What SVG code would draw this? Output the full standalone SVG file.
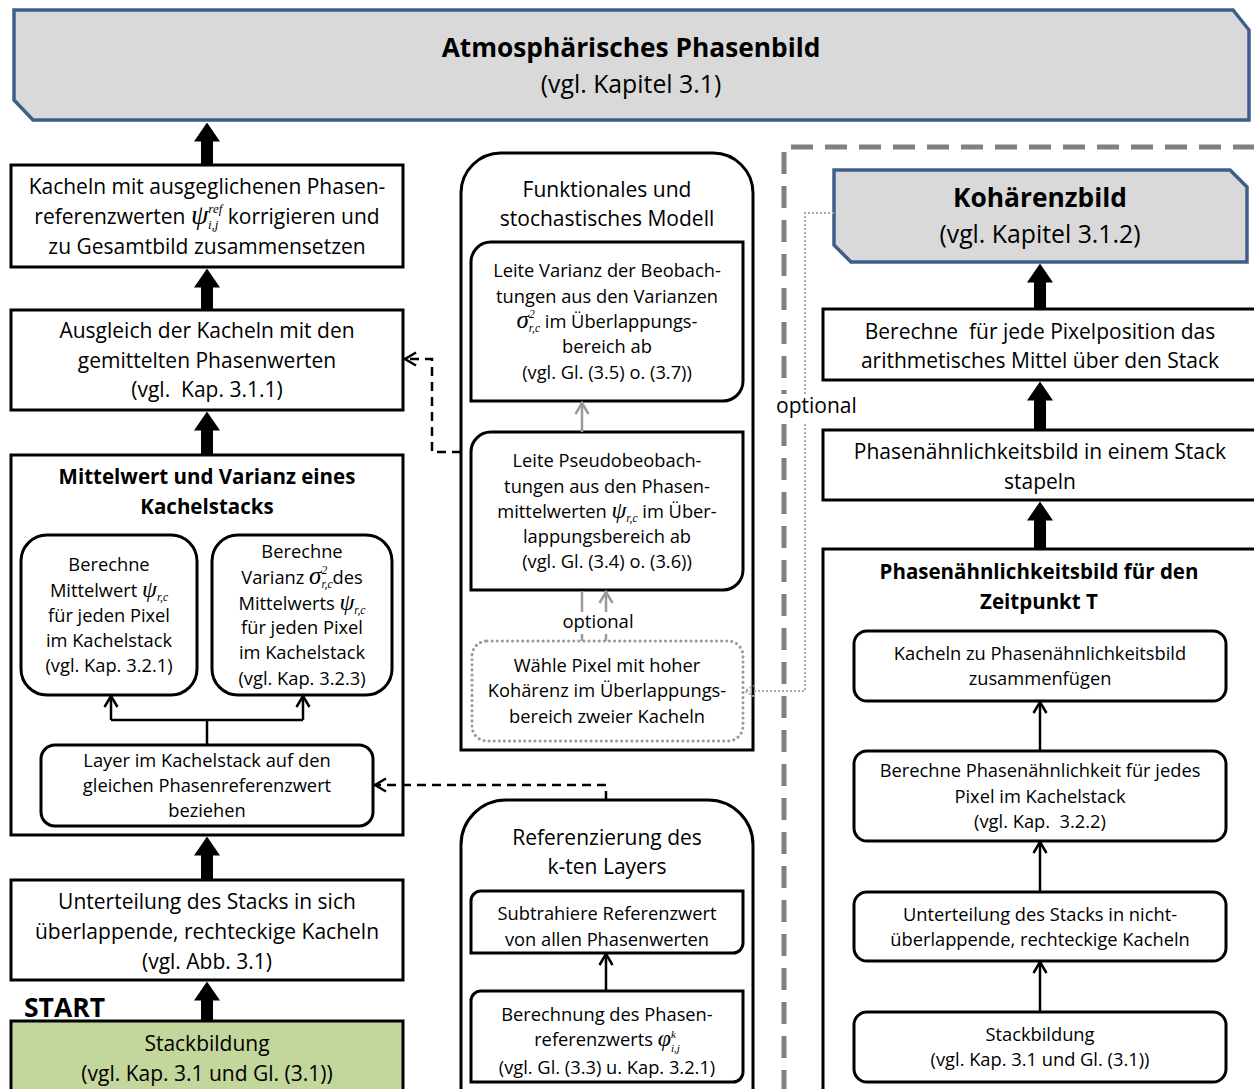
<svg xmlns="http://www.w3.org/2000/svg" width="1254" height="1089" viewBox="0 0 1254 1089">
<style>
.t{font-family:'Open Sans','Liberation Sans',sans-serif;font-size:21px;text-anchor:middle;fill:#000}
.s{font-size:18.3px}
.b{font-weight:700}
.h1{font-size:26.3px}
.h2{font-size:24.8px}
.h3{font-size:20.5px}
.st{font-size:26.5px;text-anchor:start}
.op{font-size:21px;text-anchor:start}
.om{font-size:18.5px}
.m{font-family:'Liberation Serif',serif;font-style:italic}
.box{fill:#fff;stroke:#000;stroke-width:3}
.ban{fill:#d9d9d9;stroke:#3f5f8a;stroke-width:3.5}
.thick{stroke:#000;stroke-width:12;fill:none;marker-end:url(#thk)}
.thin{stroke:#000;stroke-width:2.5;fill:none;marker-end:url(#opn)}
.gray{stroke:#9a9a9a;stroke-width:2.5;fill:none}
.dash{stroke:#000;stroke-width:2.5;fill:none;stroke-dasharray:9 6}
</style>
<defs>
<marker id="thk" markerUnits="userSpaceOnUse" markerWidth="19" markerHeight="26" viewBox="0 0 19 26" refX="0.5" refY="13" orient="auto"><path d="M0,0 L19,13 L0,26 z" fill="#000"/></marker>
<marker id="opn" markerUnits="userSpaceOnUse" markerWidth="16" markerHeight="16" viewBox="0 0 16 16" refX="14" refY="8" orient="auto" overflow="visible"><path d="M3,1.5 L14,8 L3,14.5" fill="none" stroke="#000" stroke-width="2.5"/></marker>
<marker id="opng" markerUnits="userSpaceOnUse" markerWidth="16" markerHeight="16" viewBox="0 0 16 16" refX="14" refY="8" orient="auto" overflow="visible"><path d="M3,1.5 L14,8 L3,14.5" fill="none" stroke="#9a9a9a" stroke-width="2.5"/></marker>
<marker id="opnd" markerUnits="userSpaceOnUse" markerWidth="14" markerHeight="14" viewBox="0 0 14 14" refX="12" refY="7" orient="auto" overflow="visible"><path d="M3,1.5 L12,7 L3,12.5" fill="none" stroke="#aaaaaa" stroke-width="2" stroke-dasharray="2 2"/></marker>
</defs>
<rect width="1254" height="1089" fill="#fff"/>

<g id="optional-region">
<path d="M784,1092 V147 H1258" fill="none" stroke="#808080" stroke-width="5" stroke-dasharray="22 12"/>
</g>

<g id="atmos-banner">
<path class="ban" d="M14,10 H1233 L1249,30 V120 H33 L14,100 Z"/>
<text class="t b h1" x="631" y="57">Atmosphärisches Phasenbild</text>
<text class="t h2" x="631" y="93">(vgl. Kapitel 3.1)</text>
</g>

<g id="box-kacheln-korrigieren">
<rect class="box" x="11" y="165" width="392" height="102"/>
<text class="t" x="207" y="194">Kacheln mit ausgeglichenen Phasen-</text>
<text class="t" x="207" y="224">referenzwerten  <tspan class="m" style="font-size:28px">ψ</tspan><tspan class="m" style="font-size:13px" dy="-11">ref</tspan><tspan class="m" style="font-size:13px" dx="-14.4" dy="16">i,j</tspan><tspan dx="3.9" dy="-5"> korrigieren und</tspan></text>
<text class="t" x="207" y="254">zu Gesamtbild zusammensetzen</text>
</g>

<g id="box-ausgleich">
<rect class="box" x="11" y="310" width="392" height="100"/>
<text class="t" x="207" y="338">Ausgleich der Kacheln mit den</text>
<text class="t" x="207" y="368">gemittelten Phasenwerten</text>
<text class="t" x="207" y="397" xml:space="preserve">(vgl.  Kap. 3.1.1)</text>
</g>

<g id="box-mittelwert-varianz">
<rect class="box" x="11" y="455" width="392" height="380"/>
<text class="t b h3" x="207" y="484">Mittelwert und Varianz eines</text>
<text class="t b h3" x="207" y="514">Kachelstacks</text>
</g>

<g id="box-berechne-mittelwert">
<rect class="box" x="21" y="535" width="176" height="160" rx="26"/>
<text class="t s" x="109" y="571">Berechne</text>
<text class="t s" x="109" y="597">Mittelwert <tspan class="m" style="font-size:24px">ψ</tspan><tspan class="m" style="font-size:11.5px" dy="4">r,c</tspan></text>
<text class="t s" x="109" y="622">für jeden Pixel</text>
<text class="t s" x="109" y="647">im Kachelstack</text>
<text class="t s" x="109" y="672">(vgl. Kap. 3.2.1)</text>
</g>

<g id="box-berechne-varianz">
<rect class="box" x="212" y="535" width="180" height="160" rx="26"/>
<text class="t s" x="302" y="558">Berechne</text>
<text class="t s" x="302" y="584">Varianz <tspan class="m" style="font-size:25px">σ</tspan><tspan class="m" style="font-size:11.5px" dy="-10">2</tspan><tspan class="m" style="font-size:11.5px" dx="-5.8" dy="14">r,c</tspan><tspan dy="-4">des</tspan></text>
<text class="t s" x="302" y="610">Mittelwerts <tspan class="m" style="font-size:24px">ψ</tspan><tspan class="m" style="font-size:11.5px" dy="4">r,c</tspan></text>
<text class="t s" x="302" y="634">für jeden Pixel</text>
<text class="t s" x="302" y="659">im Kachelstack</text>
<text class="t s" x="302" y="685">(vgl. Kap. 3.2.3)</text>
</g>

<g id="box-layer-beziehen">
<rect class="box" x="41" y="745" width="332" height="81" rx="14"/>
<text class="t s" x="207" y="767">Layer im Kachelstack auf den</text>
<text class="t s" x="207" y="792">gleichen Phasenreferenzwert</text>
<text class="t s" x="207" y="817">beziehen</text>
</g>

<g id="box-unterteilung">
<rect class="box" x="11" y="880" width="392" height="100"/>
<text class="t" x="207" y="909">Unterteilung des Stacks in sich</text>
<text class="t" x="207" y="939">überlappende, rechteckige Kacheln</text>
<text class="t" x="207" y="969">(vgl. Abb. 3.1)</text>
</g>

<g id="start-stackbildung">
<text class="t b st" x="24" y="1017">START</text>
<rect x="11" y="1021" width="392" height="80" fill="#c3d69b" stroke="#000" stroke-width="3"/>
<text class="t" x="207" y="1051">Stackbildung</text>
<text class="t" x="207" y="1081">(vgl. Kap. 3.1 und Gl. (3.1))</text>
</g>

<g id="container-modell">
<path class="box" d="M461,750 V193 A40,40 0 0 1 501,153 H713 A40,40 0 0 1 753,193 V750 Z"/>
<text class="t" x="607" y="197">Funktionales und</text>
<text class="t" x="607" y="226">stochastisches Modell</text>
</g>

<g id="box-varianz-beob">
<path class="box" d="M491,242 H743 V381 A20,20 0 0 1 723,401 H471 V262 A20,20 0 0 1 491,242 Z"/>
<text class="t s" x="607" y="277">Leite Varianz der Beobach-</text>
<text class="t s" x="607" y="303">tungen aus den Varianzen</text>
<text class="t s" x="607" y="328"><tspan class="m" style="font-size:25px">σ</tspan><tspan class="m" style="font-size:11.5px" dy="-10">2</tspan><tspan class="m" style="font-size:11.5px" dx="-5.8" dy="14">r,c</tspan><tspan dy="-4"> im Überlappungs-</tspan></text>
<text class="t s" x="607" y="353">bereich ab</text>
<text class="t s" x="607" y="379">(vgl. Gl. (3.5) o. (3.7))</text>
</g>

<g id="box-pseudobeob">
<path class="box" d="M491,432 H743 V570 A20,20 0 0 1 723,590 H471 V452 A20,20 0 0 1 491,432 Z"/>
<text class="t s" x="607" y="467">Leite Pseudobeobach-</text>
<text class="t s" x="607" y="493">tungen aus den Phasen-</text>
<text class="t s" x="607" y="518">mittelwerten <tspan class="m" style="font-size:24px">ψ</tspan><tspan class="m" style="font-size:11.5px" dy="4">r,c</tspan><tspan dy="-4"> im Über-</tspan></text>
<text class="t s" x="607" y="543">lappungsbereich ab</text>
<text class="t s" x="607" y="568">(vgl. Gl. (3.4) o. (3.6))</text>
</g>

<g id="box-waehle-pixel">
<rect x="472" y="641" width="271" height="100" rx="15" fill="#fff" stroke="#999" stroke-width="3" stroke-dasharray="0.1 5" stroke-linecap="round"/>
<text class="t s" x="607" y="672">Wähle Pixel mit hoher</text>
<text class="t s" x="607" y="697">Kohärenz im Überlappungs-</text>
<text class="t s" x="607" y="723">bereich zweier Kacheln</text>
</g>

<g id="container-referenzierung">
<path class="box" d="M461,1095 V845 A45,45 0 0 1 506,800 H708 A45,45 0 0 1 753,845 V1095"/>
<text class="t" x="607" y="845">Referenzierung des</text>
<text class="t" x="607" y="874">k-ten Layers</text>
</g>

<g id="box-subtrahiere">
<path class="box" d="M481,891 H743 V943 A10,10 0 0 1 733,953 H471 V901 A10,10 0 0 1 481,891 Z"/>
<text class="t s" x="607" y="920">Subtrahiere Referenzwert</text>
<text class="t s" x="607" y="946">von allen Phasenwerten</text>
</g>

<g id="box-berechnung-referenzwert">
<path class="box" d="M481,991 H743 V1072 A10,10 0 0 1 733,1082 H471 V1001 A10,10 0 0 1 481,991 Z"/>
<text class="t s" x="607" y="1021">Berechnung des Phasen-</text>
<text class="t s" x="607" y="1046">referenzwerts  <tspan class="m" style="font-size:24px">φ</tspan><tspan class="m" style="font-size:11px" dy="-8">k</tspan><tspan class="m" style="font-size:11px" dx="-4.9" dy="14">i,j</tspan></text>
<text class="t s" x="607" y="1074">(vgl. Gl. (3.3) u. Kap. 3.2.1)</text>
</g>

<g id="koherenz-banner">
<path class="ban" d="M834,170 H1230 L1247,187 V262 H851 L834,245 Z"/>
<text class="t b h1" x="1040" y="207">Kohärenzbild</text>
<text class="t h2" x="1040" y="243">(vgl. Kapitel 3.1.2)</text>
</g>

<g id="box-arith-mittel">
<rect class="box" x="823" y="309" width="440" height="71"/>
<text class="t" x="1040" y="339" xml:space="preserve">Berechne  für jede Pixelposition das</text>
<text class="t" x="1040" y="368">arithmetisches Mittel über den Stack</text>
</g>

<g id="box-stapeln">
<rect class="box" x="823" y="430" width="440" height="70"/>
<text class="t" x="1040" y="459">Phasenähnlichkeitsbild in einem Stack</text>
<text class="t" x="1040" y="489">stapeln</text>
</g>

<g id="container-zeitpunkt">
<rect class="box" x="823" y="549" width="440" height="560"/>
<text class="t b h3" x="1039" y="579">Phasenähnlichkeitsbild für den</text>
<text class="t b h3" x="1039" y="609">Zeitpunkt T</text>
</g>

<g id="box-kacheln-zusammenfuegen">
<rect class="box" x="854" y="631" width="372" height="70" rx="13"/>
<text class="t s" x="1040" y="660">Kacheln zu Phasenähnlichkeitsbild</text>
<text class="t s" x="1040" y="685">zusammenfügen</text>
</g>

<g id="box-phasenaehnlichkeit">
<rect class="box" x="854" y="751" width="372" height="90" rx="13"/>
<text class="t s" x="1040" y="777">Berechne Phasenähnlichkeit für jedes</text>
<text class="t s" x="1040" y="803">Pixel im Kachelstack</text>
<text class="t s" x="1040" y="828" xml:space="preserve">(vgl. Kap.  3.2.2)</text>
</g>

<g id="box-unterteilung-nicht">
<rect class="box" x="854" y="892" width="372" height="69" rx="13"/>
<text class="t s" x="1040" y="921">Unterteilung des Stacks in nicht-</text>
<text class="t s" x="1040" y="946">überlappende, rechteckige Kacheln</text>
</g>

<g id="box-stackbildung-rechts">
<rect class="box" x="854" y="1012" width="372" height="70" rx="13"/>
<text class="t s" x="1040" y="1041">Stackbildung</text>
<text class="t s" x="1040" y="1066">(vgl. Kap. 3.1 und Gl. (3.1))</text>
</g>

<g id="optional-label-mid">
<text class="t om" x="598" y="628">optional</text>
</g>

<g id="connectors">
<path class="thick" d="M207,165 V141"/>
<path class="thick" d="M207,310 V287"/>
<path class="thick" d="M207,455 V430"/>
<path class="thick" d="M207,880 V855"/>
<path class="thick" d="M207,1021 V1000"/>
<path class="thick" d="M1040,309 V282"/>
<path class="thick" d="M1040,430 V400"/>
<path class="thick" d="M1040,549 V520"/>
<path stroke="#000" stroke-width="2.5" fill="none" d="M207,745 V720 H111 M207,720 H303"/>
<path class="thin" d="M111,720 V696"/>
<path class="thin" d="M303,720 V696"/>
<path class="dash" d="M461,452 H432 V359 H405" marker-end="url(#opn)"/>
<path class="dash" d="M606,800 V785 H375" marker-end="url(#opn)"/>
<path class="gray" d="M582,432 V403" marker-end="url(#opng)"/>
<path class="gray" d="M582,591 V612 M582,634 V641 M606,634 V641"/>
<path class="gray" d="M606,612 V592" marker-end="url(#opng)"/>
<path d="M834,213 H805 V691 H745" fill="none" stroke="#aaaaaa" stroke-width="2" stroke-dasharray="2 2" marker-end="url(#opnd)"/>
<path class="thin" d="M606,991 V954"/>
<path class="thin" d="M1040,751 V702"/>
<path class="thin" d="M1040,892 V842"/>
<path class="thin" d="M1040,1012 V962"/>
</g>

<g id="optional-label-right">
<rect x="774" y="394" width="88" height="28" fill="#fff"/>
<text class="t op" x="776" y="413">optional</text>
</g>
</svg>
